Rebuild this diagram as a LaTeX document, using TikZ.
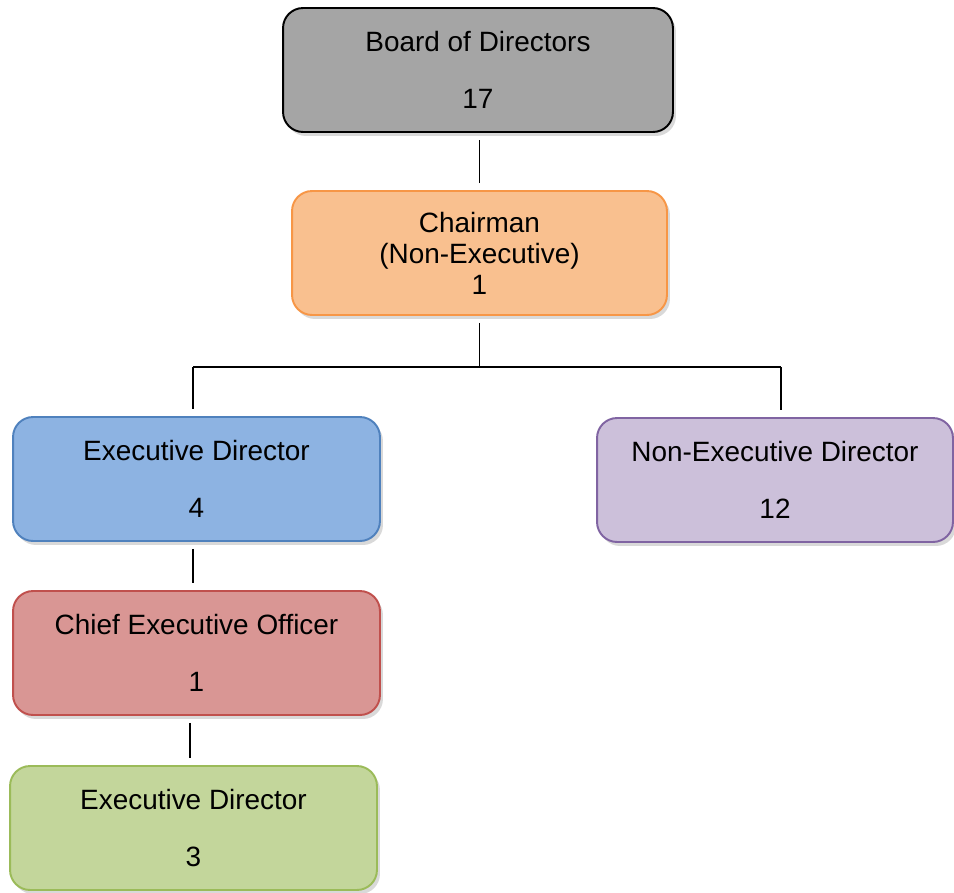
\documentclass[tikz,border=0pt]{standalone}
\usepackage{fontspec}
\setmainfont{Liberation Sans}
\usetikzlibrary{shadows}

\definecolor{boardfill}{HTML}{A5A5A5}
\definecolor{chairfill}{HTML}{F9C08F}
\definecolor{chairline}{HTML}{F79646}
\definecolor{execfill}{HTML}{8DB3E2}
\definecolor{execline}{HTML}{4F81BD}
\definecolor{nonexfill}{HTML}{CCC0DA}
\definecolor{nonexline}{HTML}{8064A2}
\definecolor{ceofill}{HTML}{D99694}
\definecolor{ceoline}{HTML}{C0504D}
\definecolor{subfill}{HTML}{C3D69B}
\definecolor{subline}{HTML}{9BBB59}

\tikzset{
  orgbox/.style={draw, line width=1.1pt, rounded corners=0.4cm, align=center,
    inner sep=0pt, minimum height=2.48cm,
    font=\fontsize{15.9}{17.6}\selectfont,
    drop shadow={shadow xshift=0.6mm, shadow yshift=-0.8mm, opacity=0.3}},
  link/.style={line width=0.8pt, shorten <=0.14cm, shorten >=0.14cm}
}

\begin{document}
\begin{tikzpicture}[x=0.02cm, y=-0.02cm]
  \useasboundingbox (0,0) rectangle (954,893);

  \node [orgbox, fill=boardfill, draw=black, minimum width=7.8cm] (board) at (478,70)
    {Board of Directors\\[15pt]17};
  \node [orgbox, fill=chairfill, draw=chairline, minimum width=7.5cm] (chair) at (479.5,253)
    {Chairman\\(Non-Executive)\\1};
  \node [orgbox, fill=execfill, draw=execline, minimum width=7.34cm] (exec) at (196.5,479)
    {Executive Director\\[15pt]4};
  \node [orgbox, fill=nonexfill, draw=nonexline, minimum width=7.12cm] (nonex) at (775,480)
    {Non-Executive Director\\[15pt]12};
  \node [orgbox, fill=ceofill, draw=ceoline, minimum width=7.34cm] (ceo) at (196.5,653)
    {Chief Executive Officer\\[15pt]1};
  \node [orgbox, fill=subfill, draw=subline, minimum width=7.34cm] (sub) at (193.5,828)
    {Executive Director\\[15pt]3};

  \coordinate (bus) at (479.5,367);
  \coordinate (busl) at (193,367);
  \coordinate (busr) at (781,367);
  \draw [link] (chair.north) -- (chair.north |- board.south);
  \draw [link, shorten >=0pt] (chair) -- (bus);
  \draw [line width=0.8pt] (busl) -- (busr);
  \draw [link, shorten <=0pt] (busl) -- (busl |- exec.north);
  \draw [link, shorten <=0pt] (busr) -- (busr |- nonex.north);
  \draw [link] (busl |- exec.south) -- (busl |- ceo.north);
  \draw [link] (190,0 |- ceo.south) -- (190,0 |- sub.north);
\end{tikzpicture}
\end{document}
